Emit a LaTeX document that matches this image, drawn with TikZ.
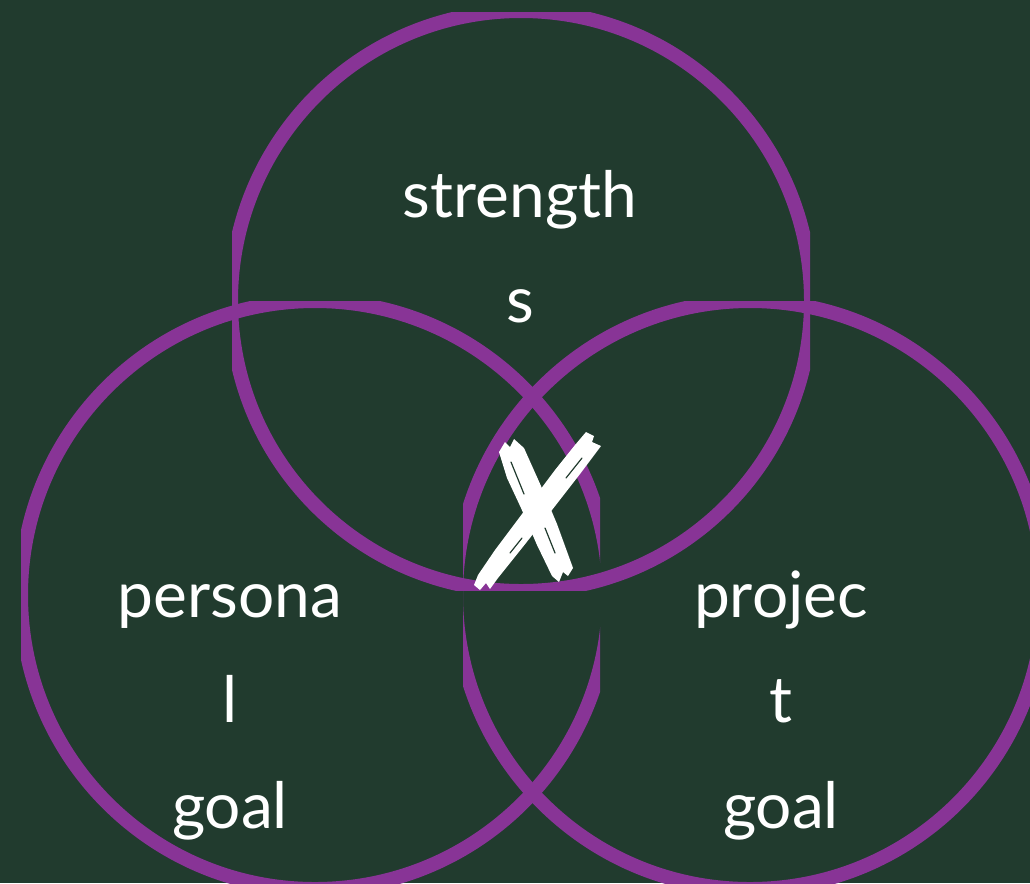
\documentclass[tikz,border=0pt]{standalone}
\usepackage{fontspec}
\setmainfont{Lato}
\definecolor{bg}{RGB}{33,59,46}
\definecolor{ring}{RGB}{136,52,150}
\tikzset{
  ringline/.style={draw=ring, line width=10.5pt},
  lbl/.style={text=white, anchor=base, inner sep=0pt, font=\fontsize{48}{58}\selectfont},
  xmark/.style={fill=white, draw=none},
  brushgap/.style={draw=bg, line width=0.9pt, line cap=round}
}
\begin{document}
\begin{tikzpicture}[x=0.75pt,y=-0.75pt]
\useasboundingbox (0,0) rectangle (1030,883);
\fill[bg] (0,0) rectangle (1030,883);
% top circle
\begin{scope}
  \clip (232,12) rectangle (810,590);
  \draw[ringline] (521,301) circle[radius=290];
\end{scope}
% left circle
\begin{scope}
  \clip (21,301) rectangle (600,883);
  \draw[ringline] (315,595) circle[radius=294];
\end{scope}
% right circle
\begin{scope}
  \clip (463,301) rectangle (1030,883);
  \draw[ringline] (750,595) circle[radius=294];
\end{scope}
% labels
\node[lbl] (s1) at (520,217) {strength};
\node[lbl] (s2) at (520,322.5) {s};
\node[lbl] (p1) at (230,617) {persona};
\node[lbl] (p2) at (230,722.5) {l};
\node[lbl] (p3) at (230,828) {goal};
\node[lbl] (j1) at (781,617) {projec};
\node[lbl] (j2) at (781,722.5) {t};
\node[lbl] (j3) at (781,828) {goal};
% hand-drawn X
\fill[xmark] (499,452) -- (505,442) -- (510,447) -- (514,439) -- (524,448) -- (541,486)
  -- (557,524) -- (573,568) -- (568,576) -- (563,572) -- (559,582) -- (552,576)
  -- (537,545) -- (521,508) -- (507,478) -- cycle;
\fill[xmark] (586,432) -- (594,436) -- (592,442) -- (601,446) -- (580,474) -- (552,510)
  -- (522,548) -- (498,578) -- (490,589) -- (486,583) -- (480,590) -- (474,585)
  -- (478,575) -- (495,550) -- (525,510) -- (555,470) -- (575,445) -- cycle;
\draw[brushgap] (511,462) -- (524,494);
\draw[brushgap] (545,528) -- (555,553);
\draw[brushgap] (582,458) -- (566,478);
\draw[brushgap] (522,538) -- (510,553);
\end{tikzpicture}
\end{document}
